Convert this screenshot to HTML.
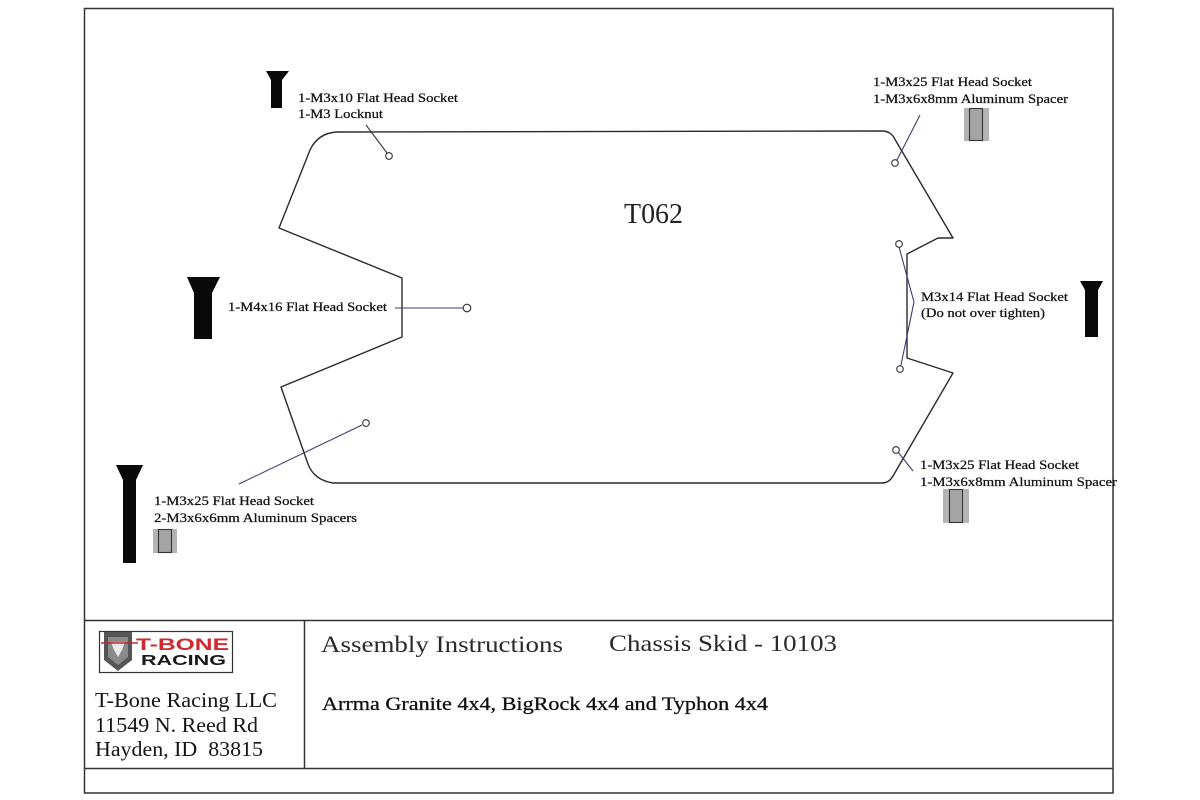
<!DOCTYPE html>
<html>
<head>
<meta charset="utf-8">
<style>
  html,body{margin:0;padding:0;background:#fff;}
  body{width:1200px;height:800px;overflow:hidden;}
  svg{display:block;}
  .lbl{font-family:"Liberation Serif","Times New Roman",serif;font-size:13px;fill:#111;stroke:#111;stroke-width:0.25;}
  .ser{font-family:"Liberation Serif","Times New Roman",serif;}
</style>
</head>
<body>
<svg width="1200" height="800" viewBox="0 0 1200 800" xmlns="http://www.w3.org/2000/svg">
  <rect x="0" y="0" width="1200" height="800" fill="#fff"/>

  <!-- outer frame -->
  <rect x="84.5" y="8.5" width="1028.5" height="784.5" fill="none" stroke="#333" stroke-width="1.5"/>
  <line x1="84" y1="620.5" x2="1113" y2="620.5" stroke="#333" stroke-width="1.5"/>
  <line x1="84" y1="768.5" x2="1113" y2="768.5" stroke="#333" stroke-width="1.5"/>
  <line x1="304.5" y1="620" x2="304.5" y2="768" stroke="#333" stroke-width="1.5"/>

  <!-- chassis outline -->
  <path d="M 337,132 L 882,131 Q 889,131 893,136 L 953,238 L 938,238 L 907,254 L 907,358 L 953,373 L 893,476 Q 889,483 882,483 L 333,483 Q 314,480 308,464 L 281,387 L 402,337 L 402,278 L 279,228 L 310,150 Q 318,133 337,132 Z"
        fill="none" stroke="#2a2a2a" stroke-width="1.4" stroke-linejoin="round"/>

  <!-- leader lines -->
  <line x1="366" y1="125" x2="387" y2="153" stroke="#333" stroke-width="1.1"/>
  <line x1="920" y1="115" x2="897" y2="160" stroke="#3c3c78" stroke-width="1.1"/>
  <polyline points="899,247 914,302 901,365" fill="none" stroke="#3c3c78" stroke-width="1.1"/>
  <line x1="898" y1="452" x2="913" y2="471" stroke="#3c3c78" stroke-width="1.1"/>
  <line x1="395" y1="308" x2="464" y2="308" stroke="#3c3c78" stroke-width="1.1"/>
  <line x1="239" y1="484" x2="362" y2="425" stroke="#3c3c78" stroke-width="1.1"/>

  <!-- holes -->
  <g fill="#fff" stroke="#333" stroke-width="1.1">
    <circle cx="389" cy="156" r="3.3"/>
    <circle cx="895" cy="163" r="3.3"/>
    <circle cx="899" cy="244" r="3.3"/>
    <circle cx="900" cy="369" r="3.3"/>
    <circle cx="896" cy="450" r="3.3"/>
    <circle cx="467" cy="308" r="3.8"/>
    <circle cx="366" cy="423" r="3.3"/>
  </g>

  <!-- screws -->
  <g fill="#0a0a0a">
    <polygon points="266,71 289,71 282,80 282,108 271,108 271,80"/>
    <polygon points="187,277 220,277 212,293 212,339 194,339 194,293"/>
    <polygon points="116,465 143,465 136,480 136,563 123,563 123,480"/>
    <polygon points="1080,281 1103,281 1098,290 1098,337 1085,337 1085,290"/>
  </g>

  <!-- spacers -->
  <rect x="964" y="108" width="25" height="33" fill="#b4b4b4"/>
  <rect x="969.5" y="108.5" width="13" height="32" fill="#a4a4a4" stroke="#333" stroke-width="1.1"/>
  <rect x="943" y="489" width="26" height="34" fill="#b4b4b4"/>
  <rect x="949.5" y="489.5" width="13" height="33" fill="#a4a4a4" stroke="#333" stroke-width="1.1"/>
  <rect x="153" y="529" width="24" height="24" fill="#b4b4b4"/>
  <rect x="158.5" y="529.5" width="13" height="23" fill="#a4a4a4" stroke="#333" stroke-width="1.1"/>

  <!-- labels -->
  <text class="lbl" x="298" y="102" textLength="160" lengthAdjust="spacingAndGlyphs">1-M3x10 Flat Head Socket</text>
  <text class="lbl" x="298" y="118" textLength="85" lengthAdjust="spacingAndGlyphs">1-M3 Locknut</text>

  <text class="lbl" x="873" y="86" textLength="159" lengthAdjust="spacingAndGlyphs">1-M3x25 Flat Head Socket</text>
  <text class="lbl" x="873" y="103" textLength="195" lengthAdjust="spacingAndGlyphs">1-M3x6x8mm Aluminum Spacer</text>

  <text class="lbl" x="921" y="301" textLength="147" lengthAdjust="spacingAndGlyphs">M3x14 Flat Head Socket</text>
  <text class="lbl" x="921" y="317" textLength="124" lengthAdjust="spacingAndGlyphs">(Do not over tighten)</text>

  <text class="lbl" x="228" y="311" textLength="159" lengthAdjust="spacingAndGlyphs">1-M4x16 Flat Head Socket</text>

  <text class="lbl" x="154" y="505" textLength="160" lengthAdjust="spacingAndGlyphs">1-M3x25 Flat Head Socket</text>
  <text class="lbl" x="154" y="522" textLength="203" lengthAdjust="spacingAndGlyphs">2-M3x6x6mm Aluminum Spacers</text>

  <text class="lbl" x="920" y="469" textLength="159" lengthAdjust="spacingAndGlyphs">1-M3x25 Flat Head Socket</text>
  <text class="lbl" x="920" y="486" textLength="197" lengthAdjust="spacingAndGlyphs">1-M3x6x8mm Aluminum Spacer</text>

  <text class="ser" x="624" y="223" font-size="28" fill="#222" textLength="59" lengthAdjust="spacingAndGlyphs">T062</text>

  <!-- title block -->
  <text class="ser" x="321" y="652" font-size="23" fill="#2a2a2a" textLength="242" lengthAdjust="spacingAndGlyphs">Assembly Instructions</text>
  <text class="ser" x="609" y="651" font-size="23" fill="#2a2a2a" textLength="228" lengthAdjust="spacingAndGlyphs">Chassis Skid - 10103</text>
  <text class="ser" x="322" y="710" font-size="19" fill="#111" stroke="#111" stroke-width="0.3" textLength="446" lengthAdjust="spacingAndGlyphs">Arrma Granite 4x4, BigRock 4x4 and Typhon 4x4</text>

  <text class="ser" x="95" y="707" font-size="21" fill="#151515" textLength="182" lengthAdjust="spacingAndGlyphs">T-Bone Racing LLC</text>
  <text class="ser" x="95" y="732" font-size="21" fill="#151515" textLength="163" lengthAdjust="spacingAndGlyphs">11549 N. Reed Rd</text>
  <text class="ser" x="95" y="756" font-size="21" fill="#151515" textLength="168" lengthAdjust="spacingAndGlyphs" xml:space="preserve">Hayden, ID  83815</text>

  <!-- logo -->
  <rect x="99.5" y="631.5" width="133" height="41" fill="#fff" stroke="#333" stroke-width="1.2"/>
  <path d="M104,632 L132,632 L132,660 L118,671 L104,660 Z" fill="#555"/>
  <path d="M108,637 L128,637 L128,657 L118,665 L108,657 Z" fill="#8a8a8a"/>
  <path d="M111,642 L125,642 L122,650 L118,657 L114,650 Z" fill="#e8e8e8"/>
  <line x1="101" y1="643" x2="138" y2="643" stroke="#c0282d" stroke-width="1.5"/>
  <text x="136" y="650" font-family="Liberation Sans, sans-serif" font-weight="bold" font-size="17" fill="#d0282e" textLength="93" lengthAdjust="spacingAndGlyphs">T-BONE</text>
  <text x="141" y="665" font-family="Liberation Sans, sans-serif" font-weight="bold" font-size="15" fill="#1a1a1a" textLength="85" lengthAdjust="spacingAndGlyphs">RACING</text>
</svg>
</body>
</html>
